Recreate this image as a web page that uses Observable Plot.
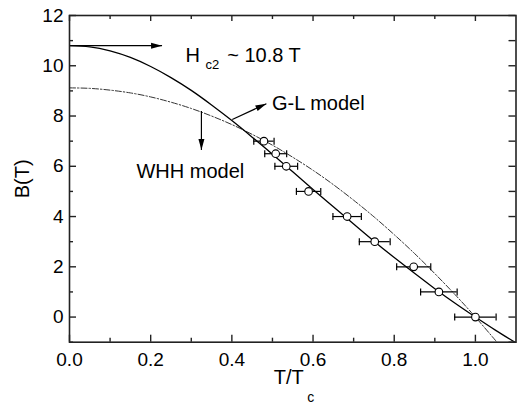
<!DOCTYPE html>
<html><head><meta charset="utf-8">
<script src="https://cdn.jsdelivr.net/npm/d3@7"></script>
<script src="https://cdn.jsdelivr.net/npm/@observablehq/plot@0.6"></script>
<style>body{margin:0;background:#fff} svg{display:block}</style>
</head><body><div id="chart"></div>
<script>
// ---- data ----
const glT = [0,0.05,0.1,0.15,0.2,0.25,0.3,0.35,0.4,0.45,0.5,0.55,0.6,0.65,0.7,0.75,0.8,0.85,0.9,0.95,1.0,1.05,1.1];
const glB = [10.80,10.75,10.59,10.33,9.97,9.53,9.02,8.44,7.82,7.16,6.48,5.78,5.08,4.39,3.70,3.02,2.37,1.74,1.13,0.55,0.00,-0.53,-1.03];
const whhT = [0,0.05,0.1,0.15,0.2,0.25,0.3,0.35,0.4,0.45,0.5,0.55,0.6,0.65,0.7,0.75,0.8,0.85,0.9,0.95,1.0,1.05,1.06];
const whhB = [9.12,9.10,9.03,8.92,8.76,8.55,8.30,8.00,7.66,7.27,6.84,6.36,5.84,5.27,4.65,3.99,3.28,2.53,1.73,0.89,0.00,-0.94,-1.13];
const tData = [0.479,0.508,0.534,0.589,0.684,0.752,0.848,0.910,1.000];
const bData = [7,6.5,6,5,4,3,2,1,0];
const tErr  = [0.025,0.027,0.028,0.030,0.035,0.038,0.042,0.045,0.051];
const xTicks = [0,0.2,0.4,0.6,0.8,1.0];
const xMinor = [0.1,0.3,0.5,0.7,0.9];
const yTicks = [0,2,4,6,8,10,12];
const yMinor = [-1,1,3,5,7,9,11];
// annotations (data coordinates)
const arrowX1 = [0, 0.325, 0.401];
const arrowY1 = [10.8, 8.2, 7.86];
const arrowX2 = [0.228, 0.325, 0.485];
const arrowY2 = [10.8, 6.65, 8.49];
const labelText = ["H", "~ 10.8 T", "G-L model", "WHH model"];
const labelX = [0.286, 0.3885, 0.499, 0.165];
const labelY = [10.15, 10.15, 8.25, 5.53];
const subText = ["c2"];
const subX = [0.335];
const subY = [9.88];

// ---- layout ----
const W = 517, H = 405, mL = 69, mR = 1.5, mT = 15, mB = 63.3;
const xDomain = [0, 1.1], yDomain = [-1, 12];
const xs = d3.scaleLinear(xDomain, [mL, W - mR]);
const ys = d3.scaleLinear(yDomain, [H - mB, mT]);
// pixel lengths converted to data lengths through the scales
const dy = px => ys.invert(ys(0) - px) - ys.invert(ys(0));
const dx = px => xs.invert(xs(0) + px) - xs.invert(xs(0));

const gl = glT.map((t, i) => ({t, b: glB[i]}));
const whh = whhT.map((t, i) => ({t, b: whhB[i]}));
const pts = tData.map((t, i) => ({t, b: bData[i], lo: t - tErr[i], hi: t + tErr[i]}));
const arrows = arrowX1.map((x1, i) => ({
  x1, y1: arrowY1[i], x2: arrowX2[i], y2: arrowY2[i],
  angle: Math.atan2(ys(arrowY2[i]) - ys(arrowY1[i]), xs(arrowX2[i]) - xs(arrowX1[i])) * 180 / Math.PI
}));
const labels = labelText.map((s, i) => ({s, x: labelX[i], y: labelY[i]}));
const subs = subText.map((s, i) => ({s, x: subX[i], y: subY[i]}));

const [y0, y1] = yDomain, [x0, x1] = xDomain;
const vTicks = [
  ...xTicks.map(v => ({x: v, a: y0, b: y0 + dy(7)})),
  ...xMinor.map(v => ({x: v, a: y0, b: y0 + dy(4)})),
  ...xTicks.map(v => ({x: v, a: y1, b: y1 - dy(6)})),
  ...xMinor.map(v => ({x: v, a: y1, b: y1 - dy(4)}))
];
const hTicks = [
  ...yTicks.map(v => ({y: v, a: x0, b: x0 + dx(7)})),
  ...yMinor.map(v => ({y: v, a: x0, b: x0 + dx(4)})),
  ...yTicks.concat(yMinor).map(v => ({y: v, a: x1, b: x1 - dx(7)}))
];

const cap = half => ({draw(ctx) { ctx.moveTo(0, -half); ctx.lineTo(0, half); }});
const head = {draw(ctx) { ctx.moveTo(0, 0); ctx.lineTo(-11, -3); ctx.lineTo(-11, 3); ctx.closePath(); }};
const axisCol = "#222";

const chart = Plot.plot({
  width: W, height: H,
  marginLeft: mL, marginRight: mR, marginTop: mT, marginBottom: mB,
  x: {domain: xDomain},
  y: {domain: yDomain},
  style: {fontFamily: "'Liberation Sans', Arial, sans-serif", fontSize: "19px", color: "#000", background: "#fff"},
  marks: [
    // inward ticks
    Plot.ruleX(vTicks, {x: "x", y1: "a", y2: "b", stroke: axisCol, strokeWidth: 1.4}),
    Plot.ruleY(hTicks, {y: "y", x1: "a", x2: "b", stroke: axisCol, strokeWidth: 1.4}),
    Plot.axisX({ticks: xTicks, tickFormat: d3.format(".1f"), tickSize: 0, tickPadding: 10, label: null}),
    Plot.axisY({ticks: yTicks, tickFormat: d3.format("d"), tickSize: 0, tickPadding: 6, label: null}),
    // model curves
    Plot.line(whh, {x: "t", y: "b", curve: "natural", stroke: "#333", strokeWidth: 1, strokeDasharray: "6,2,1.5,2", clip: true}),
    Plot.line(gl, {x: "t", y: "b", curve: "natural", stroke: "#000", strokeWidth: 1.3, clip: true}),
    // error bars and data
    Plot.ruleY(pts, {y: "b", x1: "lo", x2: "hi", stroke: "#000", strokeWidth: 1.2}),
    Plot.dot(pts, {x: "lo", y: "b", symbol: cap(3.5), stroke: "#000", strokeWidth: 1.2, fill: "none"}),
    Plot.dot(pts, {x: "hi", y: "b", symbol: cap(3.5), stroke: "#000", strokeWidth: 1.2, fill: "none"}),
    Plot.dot(pts, {x: "t", y: "b", r: 3.8, fill: "#fff", stroke: "#000", strokeWidth: 1.1}),
    // annotations
    Plot.link(arrows, {x1: "x1", y1: "y1", x2: "x2", y2: "y2", stroke: "#000", strokeWidth: 1.2}),
    Plot.dot(arrows, {x: "x2", y: "y2", rotate: "angle", symbol: head, fill: "#000", stroke: "none"}),
    Plot.text(labels, {x: "x", y: "y", text: "s", textAnchor: "start", lineAnchor: "bottom", fontSize: 20, fill: "#000"}),
    Plot.text(subs, {x: "x", y: "y", text: "s", textAnchor: "start", lineAnchor: "bottom", fontSize: 13, fill: "#000"}),
    // axis titles
    Plot.text(["B(T)"], {frameAnchor: "left", dx: -47, rotate: -90, textAnchor: "middle", lineAnchor: "middle", fontSize: 20, fill: "#000"}),
    Plot.text(["T/T"], {frameAnchor: "bottom", dx: -19, dy: 41.3, textAnchor: "start", lineAnchor: "bottom", fontSize: 20, fill: "#000"}),
    Plot.text(["c"], {frameAnchor: "bottom", dx: 14.5, dy: 60, textAnchor: "start", lineAnchor: "bottom", fontSize: 14, fill: "#000"}),
    Plot.frame({stroke: axisCol, strokeWidth: 1.6})
  ]
});
document.getElementById("chart").appendChild(chart);
</script>
</body></html>
